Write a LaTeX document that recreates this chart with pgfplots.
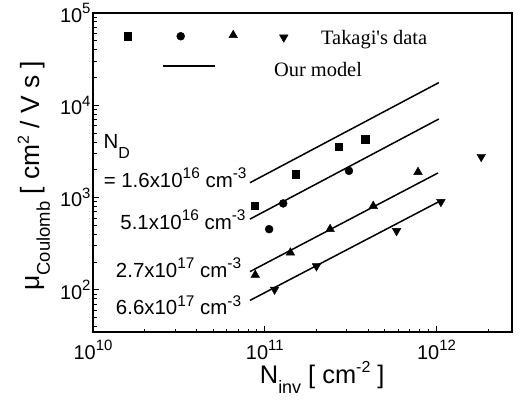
\documentclass[border=0pt]{standalone}
\usepackage{pgfplots}
\pgfplotsset{compat=1.18}
\usepackage{fontspec}
\setmainfont{Liberation Sans}
\newfontfamily\timesfont{Liberation Serif}

\newcommand\sups[1]{\raisebox{0.40em}{\fontsize{16}{16}\selectfont #1}}
\newcommand\tsup[1]{\raisebox{0.42em}{\fontsize{15}{15}\selectfont #1}}
\newcommand\asup[1]{\raisebox{0.42em}{\fontsize{15.5}{15.5}\selectfont #1}}

\begin{document}
\begin{tikzpicture}
\path[use as bounding box] (-93bp,-73bp) rectangle (434bp,332bp);
\begin{axis}[
    at={(0,0)}, anchor=south west,
    scale only axis, width=419bp, height=319bp,
    xmode=log, ymode=log,
    xmin=1e10, xmax=2.75e12, ymin=35, ymax=1e5,
    clip=false,
    axis line style={line width=1.3bp},
    tick align=inside, xtick pos=bottom, ytick pos=left,
    major tick length=6bp, minor tick length=3.5bp,
    every tick/.style={line width=0.9bp, black},
    xtick={1e10,1e11,1e12},
    xticklabels={10\tsup{10},10\tsup{11},10\tsup{12}},
    minor xtick={2e10,3e10,4e10,5e10,6e10,7e10,8e10,9e10,2e11,3e11,4e11,5e11,6e11,7e11,8e11,9e11,2e12},
    ytick={1e2,1e3,1e4,1e5},
    yticklabels={10\tsup{2},10\tsup{3},10\tsup{4},10\tsup{5}},
    minor ytick={40,50,60,70,80,90,200,300,400,500,600,700,800,900,2000,3000,4000,5000,6000,7000,8000,9000,2e4,3e4,4e4,5e4,6e4,7e4,8e4,9e4},
    ticklabel style={font=\fontsize{20}{20}\selectfont},
    xticklabel style={yshift=-5bp},
    yticklabel style={xshift=1bp},
    xlabel={N\raisebox{-0.40em}{\fontsize{18}{18}\selectfont inv} [ cm\sups{-2} ]},
    xlabel style={font=\fontsize{25.5}{25.5}\selectfont, at={(axis description cs:0.547,-0.16)}, anchor=base},
    ylabel={μ\raisebox{-0.40em}{\fontsize{18.5}{18.5}\selectfont Coulomb} [ cm\sups{2} / V s ]},
    ylabel style={font=\fontsize{26.5}{26.5}\selectfont, at={(axis description cs:-0.128,0.49)}, anchor=base},
]
% Takagi's data
\addplot[only marks, mark=square*, mark size=3.6bp, black] coordinates {
    (8.7e10,810) (1.52e11,1790) (2.70e11,3590) (3.84e11,4300)
    (1.60e10,5.6e4)
};
\addplot[only marks, mark=*, mark size=4bp, black] coordinates {
    (1.06e11,455) (1.28e11,865) (3.09e11,1950)
    (3.24e10,5.6e4)
};
\addplot[only marks, mark=triangle*, mark size=5bp, black] coordinates {
    (8.8e10,145) (1.41e11,253) (2.40e11,455) (4.28e11,810) (7.8e11,1890)
    (6.55e10,5.75e4)
};
\addplot[only marks, mark=triangle*, mark options={rotate=180}, mark size=5bp, black] coordinates {
    (1.14e11,101) (2.0e11,181) (5.85e11,436) (1.06e12,900) (1.82e12,2770)
    (1.29e11,5.45e4)
};
% model lines
\addplot[black, line width=1.5bp] coordinates {(8.2e10,1450) (1.03e12,17600)};
\addplot[black, line width=1.5bp] coordinates {(8.2e10,585) (1.03e12,7100)};
\addplot[black, line width=1.5bp] coordinates {(8.2e10,158) (1.02e12,1850)};
\addplot[black, line width=1.5bp] coordinates {(8.2e10,77) (1.08e12,945)};
% legend line
\addplot[black, line width=1.5bp] coordinates {(2.54e10,2.67e4) (5.11e10,2.67e4)};

\node[anchor=base west, font=\timesfont\fontsize{20.5}{20.5}\selectfont] at (axis cs:2.03e11,4.53e4) {Takagi's data};
\node[anchor=base west, font=\timesfont\fontsize{20.5}{20.5}\selectfont] at (axis cs:1.08e11,2.05e4) {Our model};

\begin{scope}[every node/.style={font=\fontsize{20.5}{20.5}\selectfont, inner sep=0pt}]
\node[anchor=base west] at (axis cs:1.15e10,3365) {N\raisebox{-10bp}{\fontsize{16}{16}\selectfont D}};
\node[anchor=base east] at (axis cs:7.85e10,1298) {= 1.6x10\asup{16} cm\asup{-3}};
\node[anchor=base east] at (axis cs:7.75e10,453) {5.1x10\asup{16} cm\asup{-3}};
\node[anchor=base east] at (axis cs:7.3e10,138) {2.7x10\asup{17} cm\asup{-3}};
\node[anchor=base east] at (axis cs:7.3e10,53.8) {6.6x10\asup{17} cm\asup{-3}};
\end{scope}
\end{axis}
\end{tikzpicture}
\end{document}
